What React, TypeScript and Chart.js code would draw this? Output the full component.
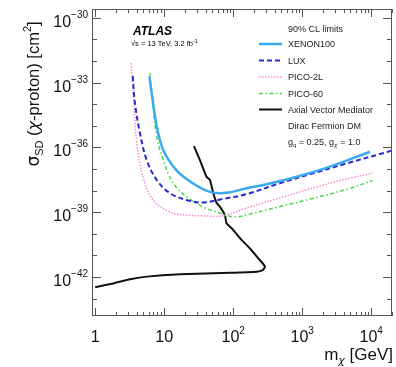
import React, { useEffect, useRef } from 'react';
import { Chart, registerables } from 'chart.js';

Chart.register(...registerables);

// ---- data (mass in GeV, cross-section in cm^2) ----
const xenonMass = [6.1, 6.6, 7.8, 9.7, 15, 26, 46, 80, 157, 273, 830, 2530, 9600];
const xenonSigma = [1.86e-33, 3.2e-34, 9.1e-36, 7.6e-37, 8.9e-38, 2.2e-38, 8.7e-39, 7.9e-39, 1.29e-38, 1.82e-38, 4.4e-38, 1.29e-37, 6.3e-37];

const luxMass = [3.5, 3.77, 4.46, 5.58, 7.8, 12.1, 21, 36.5, 71, 157, 476, 1435, 4415, 13400, 20000];
const luxSigma = [2.0e-33, 1.1e-34, 4.5e-36, 2.6e-37, 3.1e-38, 7.6e-39, 3.7e-39, 2.8e-39, 4.1e-39, 6.9e-39, 2.2e-38, 6.3e-38, 1.82e-37, 4.9e-37, 7.1e-37];

const pico2lMass = [3.3, 3.57, 4.0, 4.93, 6.9, 12.1, 21, 36.5, 71, 157, 476, 1435, 4415, 10500];
const pico2lSigma = [7.9e-33, 3.2e-34, 1.58e-36, 4.3e-38, 3.7e-39, 1.02e-39, 7.4e-40, 6.8e-40, 6.8e-40, 1.58e-39, 4.6e-39, 1.32e-38, 3.5e-38, 6.3e-38];

const pico60Mass = [6.2, 6.6, 7.8, 9.7, 13.5, 21, 37, 64, 106, 175, 476, 1450, 4415, 10500];
const pico60Sigma = [2.7e-33, 3.2e-34, 3.1e-36, 2.6e-37, 2.2e-38, 5.2e-39, 1.74e-39, 9.1e-40, 6.0e-40, 8.3e-40, 1.82e-39, 4.4e-39, 1.15e-38, 2.9e-38];

const axialMass = [1.0, 1.83, 3.2, 5.6, 17, 90, 219, 268, 289, 231, 175, 126, 95, 80, 76, 64, 58, 51.5, 46, 41, 33, 27];
const axialSigma = [3.4e-43, 5.1e-43, 7.9e-43, 1.05e-42, 1.35e-42, 1.58e-42, 1.78e-42, 2.1e-42, 3.1e-42, 7.4e-42, 2.1e-41, 6.2e-41, 1.82e-40, 3.1e-40, 7.4e-40, 1.82e-39, 2.6e-39, 7.6e-39, 3.1e-38, 4.4e-38, 2.6e-37, 1.15e-36];

const seriesLabels = ['XENON100', 'LUX', 'PICO-2L', 'PICO-60', 'Axial Vector Mediator'];

const xTickValues = [1, 10, 100, 1000, 10000];
const xTickLabels = ['1', '10', '10^2', '10^3', '10^4'];
const yTickValues = [1e-30, 1e-33, 1e-36, 1e-39, 1e-42];
const yTickLabels = ['10^\u221230', '10^\u221233', '10^\u221236', '10^\u221239', '10^\u221242'];

const FONT = '"Liberation Sans", Arial, Helvetica, sans-serif';
const GREEK = '"DejaVu Sans", sans-serif';

function pts(m: number[], s: number[]) {
  return m.map((v, i) => ({ x: v, y: s[i] }));
}

function drawSup(ctx: CanvasRenderingContext2D, text: string, x: number, y: number, align: 'left' | 'right' | 'center', base: number, sup: number, rise: number) {
  const [b, e] = text.split('^');
  ctx.font = `${base}px ${FONT}`;
  const wb = ctx.measureText(b).width;
  ctx.font = `${sup}px ${FONT}`;
  const we = e ? ctx.measureText(e).width : 0;
  const total = wb + we;
  let x0 = x;
  if (align === 'right') x0 = x - total;
  else if (align === 'center') x0 = x - total / 2;
  ctx.textAlign = 'left';
  ctx.textBaseline = 'alphabetic';
  ctx.font = `${base}px ${FONT}`;
  ctx.fillText(b, x0, y);
  if (e) {
    ctx.font = `${sup}px ${FONT}`;
    ctx.fillText(e, x0 + wb, y - rise);
  }
}

type Seg = { t: string; size: number; dy: number; style?: string; fam?: string };
function segFont(s: Seg) {
  return `${s.style || ''} ${s.size}px ${s.fam || FONT}`;
}
function drawSegs(ctx: CanvasRenderingContext2D, segs: Seg[], x: number, y: number, align: 'left' | 'right' | 'center') {
  let total = 0;
  for (const s of segs) {
    ctx.font = segFont(s);
    total += ctx.measureText(s.t).width;
  }
  let cx = align === 'left' ? x : align === 'right' ? x - total : x - total / 2;
  ctx.textAlign = 'left';
  ctx.textBaseline = 'alphabetic';
  for (const s of segs) {
    ctx.font = segFont(s);
    ctx.fillText(s.t, cx, y + s.dy);
    cx += ctx.measureText(s.t).width;
  }
}

const decorPlugin = {
  id: 'decor',
  afterDraw(chart: any) {
    const { ctx, chartArea: a, scales } = chart;
    const xs = scales.x;
    const ys = scales.y;
    ctx.save();
    ctx.strokeStyle = '#555';
    ctx.lineWidth = 1;
    ctx.strokeRect(a.left + 0.5, a.top + 0.5, a.right - a.left - 1, a.bottom - a.top - 1);

    const seg = (x1: number, y1: number, x2: number, y2: number) => {
      ctx.beginPath();
      ctx.moveTo(x1, y1);
      ctx.lineTo(x2, y2);
      ctx.stroke();
    };
    // x ticks (bottom & top, inward)
    for (let d = -1; d <= 5; d++) {
      for (let k = 1; k <= 9; k++) {
        const v = k * Math.pow(10, d);
        if (v < xs.min || v > xs.max * 1.0001) continue;
        const px = Math.round(xs.getPixelForValue(v)) + 0.5;
        const len = k === 1 ? 8 : 4;
        seg(px, a.bottom, px, a.bottom - len);
        seg(px, a.top, px, a.top + len);
      }
    }
    // y ticks (left & right, inward)
    for (let e = -45; e <= -28; e++) {
      const v = Math.pow(10, e);
      if (v < ys.min || v > ys.max) continue;
      const py = Math.round(ys.getPixelForValue(v)) + 0.5;
      const len = e % 3 === 0 ? 9 : 5;
      seg(a.left, py, a.left + len, py);
      seg(a.right, py, a.right - len, py);
    }

    ctx.fillStyle = '#111';
    // y tick labels
    yTickValues.forEach((v, i) => {
      const py = ys.getPixelForValue(v);
      drawSup(ctx, yTickLabels[i], a.left - 4, py + 9, 'right', 16, 10, 9);
    });
    // x tick labels
    xTickValues.forEach((v, i) => {
      const px = xs.getPixelForValue(v);
      drawSup(ctx, xTickLabels[i], px, a.bottom + 26, 'center', 16, 10, 8);
    });

    // axis titles
    drawSegs(ctx, [
      { t: 'm', size: 17, dy: 0 },
      { t: '\u03c7', size: 11, dy: 4, fam: GREEK, style: 'italic' },
      { t: ' [GeV]', size: 17, dy: 0 },
    ], a.right + 1, 360, 'right');

    ctx.save();
    ctx.translate(39, 94);
    ctx.rotate(-Math.PI / 2);
    drawSegs(ctx, [
      { t: '\u03c3', size: 17, dy: 0, fam: GREEK },
      { t: 'SD', size: 11, dy: 4 },
      { t: ' (', size: 16.5, dy: 0 },
      { t: '\u03c7', size: 16, dy: 0, fam: GREEK, style: 'italic' },
      { t: '-proton) [cm', size: 16.5, dy: 0 },
      { t: '2', size: 11, dy: -8 },
      { t: ']', size: 16.5, dy: 0 },
    ], 0, 0, 'center');
    ctx.restore();

    // ATLAS label
    ctx.fillStyle = '#000';
    drawSegs(ctx, [{ t: 'ATLAS', size: 12, dy: 0, style: 'italic bold' }], 133, 35, 'left');
    drawSegs(ctx, [
      { t: '\u221As = 13 TeV, 3.2 fb', size: 7.5, dy: 0 },
      { t: '-1', size: 5.5, dy: -3 },
    ], 131, 46, 'left');

    // legend
    ctx.fillStyle = '#222';
    drawSegs(ctx, [{ t: '90% CL limits', size: 9, dy: 0 }], 288, 32, 'left');
    const rowY = [44, 60.5, 77, 93.5, 109.5];
    chart.data.datasets.forEach((ds: any, i: number) => {
      const ly = rowY[i];
      ctx.save();
      ctx.strokeStyle = ds.borderColor;
      ctx.lineWidth = ds.borderWidth;
      ctx.setLineDash(ds.borderDash || []);
      ctx.beginPath();
      ctx.moveTo(259, ly);
      ctx.lineTo(282, ly);
      ctx.stroke();
      ctx.restore();
      ctx.fillStyle = '#222';
      drawSegs(ctx, [{ t: ds.label, size: 9, dy: 0 }], 288, ly + 3.2, 'left');
    });
    drawSegs(ctx, [{ t: 'Dirac Fermion DM', size: 9, dy: 0 }], 288, 128.5, 'left');
    drawSegs(ctx, [
      { t: 'g', size: 9, dy: 0 },
      { t: 'q', size: 6, dy: 2.5 },
      { t: ' = 0.25, g', size: 9, dy: 0 },
      { t: '\u03c7', size: 6, dy: 2.5, fam: GREEK, style: 'italic' },
      { t: ' = 1.0', size: 9, dy: 0 },
    ], 288, 144.5, 'left');
    ctx.restore();
  },
};

export default function App() {
  const ref = useRef<HTMLCanvasElement | null>(null);
  useEffect(() => {
    if (!ref.current) return;
    const chart = new Chart(ref.current, {
      type: 'scatter',
      data: {
        datasets: [
          {
            label: seriesLabels[0],
            data: pts(xenonMass, xenonSigma),
            borderColor: 'rgb(60,170,240)',
            borderWidth: 2.5,
            borderDash: [],
            tension: 0.35,
          },
          {
            label: seriesLabels[1],
            data: pts(luxMass, luxSigma),
            borderColor: 'rgb(40,40,210)',
            borderWidth: 2,
            borderDash: [5, 3],
            tension: 0.35,
          },
          {
            label: seriesLabels[2],
            data: pts(pico2lMass, pico2lSigma),
            borderColor: 'rgb(245,140,215)',
            borderWidth: 1.5,
            borderDash: [1.5, 1.5],
            tension: 0.35,
          },
          {
            label: seriesLabels[3],
            data: pts(pico60Mass, pico60Sigma),
            borderColor: 'rgb(70,215,70)',
            borderWidth: 1.5,
            borderDash: [4, 2.5, 1.5, 2.5],
            tension: 0.35,
          },
          {
            label: seriesLabels[4],
            data: pts(axialMass, axialSigma),
            borderColor: '#111',
            borderWidth: 2,
            borderDash: [],
            tension: 0.15,
          },
        ],
      },
      options: {
        responsive: false,
        animation: false,
        showLine: true,
        elements: { point: { radius: 0, hoverRadius: 0 } },
        layout: { padding: { top: 9, right: 4, left: 0, bottom: 0 } },
        plugins: { legend: { display: false }, tooltip: { enabled: false } },
        events: [],
        scales: {
          x: {
            type: 'logarithmic',
            min: 0.9,
            max: 20000,
            grid: { display: false },
            border: { display: false },
            ticks: { display: false },
            afterFit: (s: any) => { s.height = 51; },
          },
          y: {
            type: 'logarithmic',
            min: Math.pow(10, -43.8),
            max: Math.pow(10, -29.6),
            grid: { display: false },
            border: { display: false },
            ticks: { display: false },
            afterFit: (s: any) => { s.width = 92; },
          },
        },
      } as any,
      plugins: [decorPlugin],
    });
    return () => chart.destroy();
  }, []);
  return (
    <div style={{ position: 'absolute', left: 0, top: 0, width: 396, height: 367, background: '#fff' }}>
      <canvas ref={ref} width={396} height={367} style={{ width: 396, height: 367, display: 'block' }} />
    </div>
  );
}
